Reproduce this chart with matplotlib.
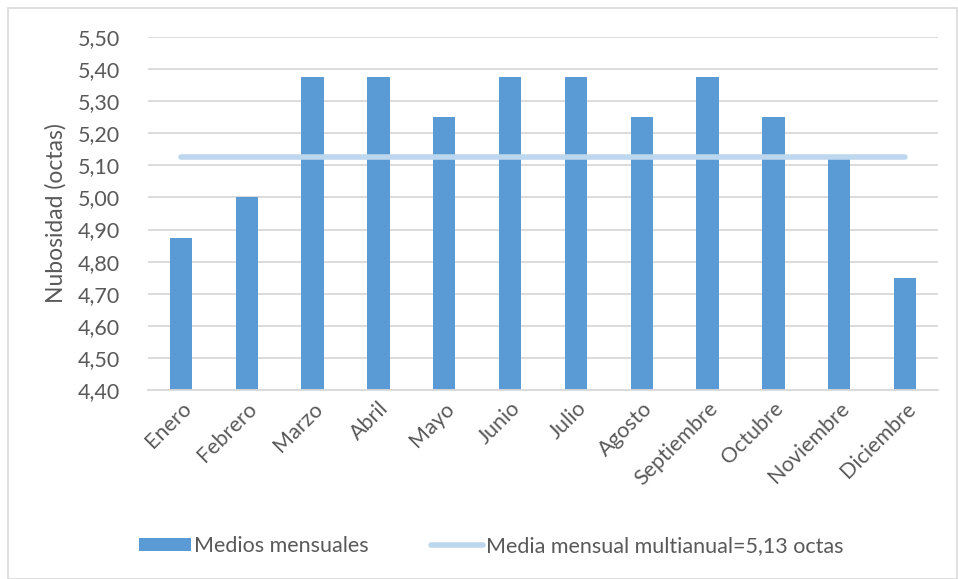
import matplotlib
matplotlib.use("Agg")
import matplotlib.pyplot as plt
from matplotlib.patches import Rectangle
from matplotlib.ticker import FuncFormatter, MultipleLocator

plt.rcParams['font.family'] = ['Lato', 'DejaVu Sans']

meses = ['Enero', 'Febrero', 'Marzo', 'Abril', 'Mayo', 'Junio', 'Julio',
         'Agosto', 'Septiembre', 'Octubre', 'Noviembre', 'Diciembre']
medios = [4.875, 5.0, 5.375, 5.375, 5.25, 5.375, 5.375,
          5.25, 5.375, 5.25, 5.125, 4.75]
media_anual = 5.125

gris = '#595959'

fig = plt.figure(figsize=(9.58, 5.79), dpi=100)
ax = fig.add_axes([148/958, 1 - 390/579, 790/958, (390 - 37)/579])

# marco del grafico
fig.patches.append(Rectangle((8/958, 0), 949/958, 1 - 8/579, transform=fig.transFigure,
                             fill=False, edgecolor='#d9d9d9', lw=1.2))

x = list(range(len(meses)))
barras = ax.bar(x, [v - 4.4 for v in medios], bottom=4.4, width=0.34, color='#5b9bd5',
                zorder=2)
linea, = ax.plot([x[0], x[-1]], [media_anual, media_anual], color='#bdd7ee', lw=4,
                 solid_capstyle='round', zorder=3)

ax.set_xlim(-0.5, len(meses) - 0.5)
ax.set_ylim(4.4, 5.5)
ax.yaxis.set_major_locator(MultipleLocator(0.1))
ax.yaxis.set_major_formatter(FuncFormatter(lambda v, p: f'{v:.2f}'.replace('.', ',')))
ax.grid(axis='y', color='#d9d9d9', lw=1.3, zorder=0)
ax.set_axisbelow(True)
for s in ['top', 'right', 'left']:
    ax.spines[s].set_visible(False)
ax.spines['bottom'].set_color('#d9d9d9')
ax.spines['bottom'].set_linewidth(1.3)
ax.tick_params(axis='both', length=0, colors=gris, labelsize=15.5)
ax.tick_params(axis='y', pad=20)
ax.tick_params(axis='x', pad=6)
ax.set_xticks(x)
ax.set_xticklabels(meses, rotation=45, ha='right', rotation_mode='anchor')
ax.set_ylabel('Nubosidad (octas)', color=gris, fontsize=16.5, labelpad=8)

fig.legend([barras, linea], ['Medios mensuales', 'Media mensual multianual=5,13 octas'],
           loc='center', bbox_to_anchor=(0.513, 1 - 546/579), ncol=2, frameon=False,
           fontsize=15.5, labelcolor=gris, handlelength=2.4, handleheight=0.6,
           handletextpad=0.15, columnspacing=2.9)

fig.savefig('out.png', dpi=100)
